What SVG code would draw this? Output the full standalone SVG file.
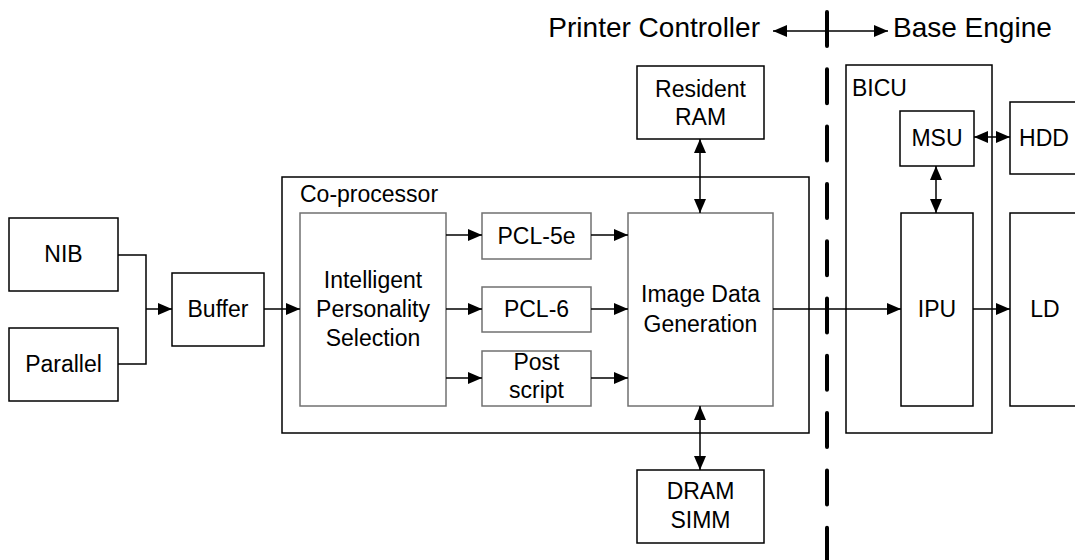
<svg xmlns="http://www.w3.org/2000/svg" width="1075" height="560" viewBox="0 0 1075 560">
<style>
.box{fill:#fff;stroke:#000;stroke-width:1.5}
.inner{fill:#fff;stroke:#707070;stroke-width:1.5}
.grp{fill:none;stroke:#000;stroke-width:1.5}
.t{font-family:"Liberation Sans",Arial,sans-serif;font-size:23px;fill:#000;text-anchor:middle}
.ts{font-family:"Liberation Sans",Arial,sans-serif;font-size:23px;fill:#000}
.hd{font-family:"Liberation Sans",Arial,sans-serif;font-size:28px;fill:#000}
.c{fill:none;stroke:#000;stroke-width:1.5}
.a{marker-end:url(#ah)}
.b{marker-start:url(#ah);marker-end:url(#ah)}
</style>
<defs>
<marker id="ah" viewBox="0 0 14 12" refX="14" refY="6" markerWidth="14" markerHeight="12" markerUnits="userSpaceOnUse" orient="auto-start-reverse">
<path d="M0,0 L14,6 L0,12 z" fill="#000"/>
</marker>
</defs>
<rect width="1075" height="560" fill="#fff"/>

<g id="header">
<text class="hd" x="760" y="37" text-anchor="end">Printer Controller</text>
<text class="hd" x="893" y="37">Base Engine</text>
</g>

<g id="divider">
<line x1="827" y1="12" x2="827" y2="560" stroke="#000" stroke-width="4" stroke-linecap="round" stroke-dasharray="34 23.3"/>
</g>

<g id="coprocessor">
<rect class="grp" x="282" y="177" width="527" height="256"/>
<text class="ts" x="300" y="202">Co-processor</text>
</g>
<g id="bicu">
<rect class="grp" x="846" y="65" width="146" height="368"/>
<text class="ts" x="852" y="96">BICU</text>
</g>

<g id="nib"><rect class="box" x="9" y="218" width="109" height="73"/><text class="t" x="63.5" y="262">NIB</text></g>
<g id="parallel"><rect class="box" x="9" y="328" width="109" height="73"/><text class="t" x="63.5" y="372">Parallel</text></g>
<g id="buffer"><rect class="box" x="172" y="273" width="92" height="73"/><text class="t" x="218" y="317">Buffer</text></g>
<g id="ips"><rect class="inner" x="300" y="213" width="146" height="193"/>
<text class="t" x="373" y="288">Intelligent</text><text class="t" x="373" y="317">Personality</text><text class="t" x="373" y="346">Selection</text></g>
<g id="pcl5e"><rect class="inner" x="482" y="213" width="109" height="46"/><text class="t" x="536.5" y="244">PCL-5e</text></g>
<g id="pcl6"><rect class="inner" x="482" y="287" width="109" height="45"/><text class="t" x="536.5" y="317">PCL-6</text></g>
<g id="postscript"><rect class="inner" x="482" y="351" width="109" height="55"/><text class="t" x="536.5" y="370">Post</text><text class="t" x="536.5" y="398">script</text></g>
<g id="idg"><rect class="inner" x="628" y="213" width="145" height="193"/><text class="t" x="700.5" y="302">Image Data</text><text class="t" x="700.5" y="332">Generation</text></g>
<g id="resram"><rect class="box" x="637" y="66" width="127" height="73"/><text class="t" x="700.5" y="97">Resident</text><text class="t" x="700.5" y="125">RAM</text></g>
<g id="dram"><rect class="box" x="637" y="470" width="127" height="73"/><text class="t" x="700.5" y="499">DRAM</text><text class="t" x="700.5" y="528">SIMM</text></g>
<g id="msu"><rect class="box" x="900" y="111" width="74" height="55"/><text class="t" x="937" y="146">MSU</text></g>
<g id="hdd"><rect class="box" x="1010" y="102" width="75" height="72"/><text class="t" x="1044" y="146">HDD</text></g>
<g id="ipu"><rect class="box" x="901" y="213" width="72" height="193"/><text class="t" x="937" y="317">IPU</text></g>
<g id="ld"><rect class="box" x="1010" y="213" width="75" height="193"/><text class="t" x="1045" y="317">LD</text></g>

<g id="connectors">
<path class="c" d="M118,255 H146 V364 H118"/>
<path class="c a" d="M146,309 H172"/>
<path class="c a" d="M264,309 H300"/>
<path class="c a" d="M446,235 H482"/>
<path class="c a" d="M446,309 H482"/>
<path class="c a" d="M446,378 H482"/>
<path class="c a" d="M591,235 H628"/>
<path class="c a" d="M591,309 H628"/>
<path class="c a" d="M591,378 H628"/>
<path class="c b" d="M700,139 V213"/>
<path class="c b" d="M700,406 V470"/>
<path class="c a" d="M773,309 H901"/>
<path class="c b" d="M974,137 H1010"/>
<path class="c b" d="M936,166 V213"/>
<path class="c a" d="M973,309 H1010"/>
<path class="c b" d="M773,31 H888"/>
</g>
</svg>
